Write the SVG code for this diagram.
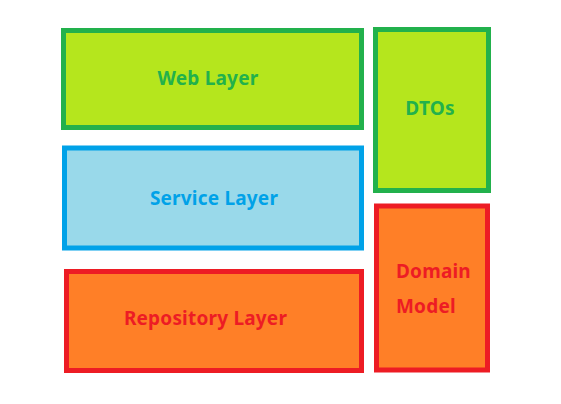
<svg xmlns="http://www.w3.org/2000/svg" width="561" height="404" viewBox="0 0 561 404">
<style>
rect{stroke-width:5}
text{font-family:"Noto Sans","Liberation Sans",sans-serif;font-weight:bold;font-size:19px;letter-spacing:0.2px}
.g rect{fill:#b5e61d;stroke:#22b14c}.g text{fill:#22b14c}
.b rect{fill:#99d9ea;stroke:#00a2e8}.b text{fill:#00a2e8}
.r rect{fill:#ff7f27;stroke:#ed1c24}.r text{fill:#ed1c24}
</style>
<g id="web" class="g"><rect x="63.5" y="30.5" width="298" height="97"/><text x="208" y="85" text-anchor="middle">Web Layer</text></g>
<g id="dtos" class="g"><rect x="375.5" y="29.5" width="113" height="161"/><text x="430" y="115" text-anchor="middle">DTOs</text></g>
<g id="service" class="b"><rect x="64.5" y="148" width="297" height="100"/><text x="214" y="205" text-anchor="middle">Service Layer</text></g>
<g id="repository" class="r"><rect x="66.5" y="271.5" width="295" height="99"/><text x="205.5" y="325" text-anchor="middle">Repository Layer</text></g>
<g id="domain" class="r"><rect x="376.5" y="206" width="111" height="164"/><text x="396" y="278">Domain</text><text x="396" y="313">Model</text></g>
<g id="connectors"/>
</svg>
